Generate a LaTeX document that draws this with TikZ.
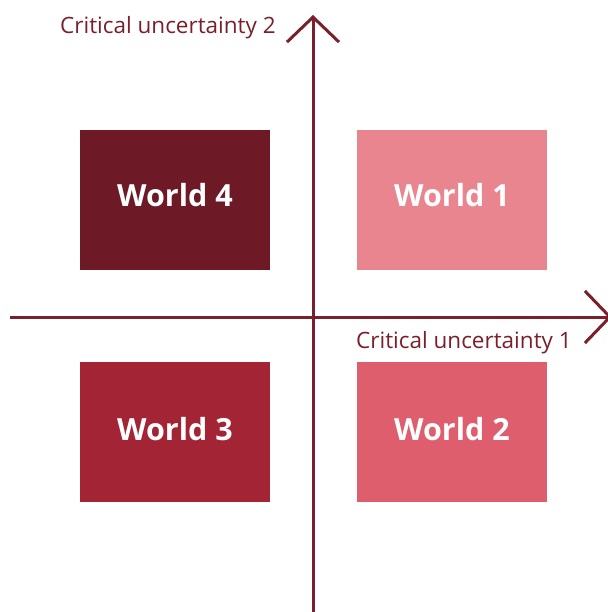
\documentclass[tikz,border=0pt]{standalone}
\usepackage{fontspec}
\setmainfont{Open Sans}
\usetikzlibrary{arrows.meta}
\definecolor{axiscol}{HTML}{7A1F2C}
\definecolor{worldone}{HTML}{E8858F}
\definecolor{worldtwo}{HTML}{DF5E6E}
\definecolor{worldthree}{HTML}{A22435}
\definecolor{worldfour}{HTML}{6E1A26}
\begin{document}
\begin{tikzpicture}[x=1pt, y=-1pt,
        world/.style={rectangle, inner sep=0pt, minimum width=190pt, minimum height=140pt, text depth=10pt, text=white, font=\fontsize{30.5}{34}\selectfont\bfseries},
        axis/.style={draw=axiscol, line width=3pt, -{Straight Barb[length=25pt, width=52pt, line width=3pt]}},
        axislabel/.style={text=axiscol, font=\fontsize{22.5}{26}\selectfont, inner sep=0pt}]
            \useasboundingbox (0,0) rectangle (607,612);
            \node [world, fill=worldfour] (W4) at (175,200) {World 4};
            \node [world, fill=worldone] (W1) at (452,200) {World 1};
            
            \node [world, fill=worldthree, text depth=5pt] (W3) at (175,431.5) {World 3};
            \node [world, fill=worldtwo, text depth=5pt] (W2) at (452,431.5) {World 2};
            
            \coordinate (ylo) at (313,615); \coordinate (yhi) at (313,15);
            \coordinate (xlo) at (10,317); \coordinate (xhi) at (612,317);
            \draw [axis] (ylo) -- (yhi);
            \draw [axis] (xlo) -- (xhi);
            
            \node [axislabel, anchor=base west] (L2) at (60,34) {Critical uncertainty 2};
            \node [axislabel, anchor=base west] (L1) at (356,348) {Critical uncertainty 1};
        \end{tikzpicture}
\end{document}
